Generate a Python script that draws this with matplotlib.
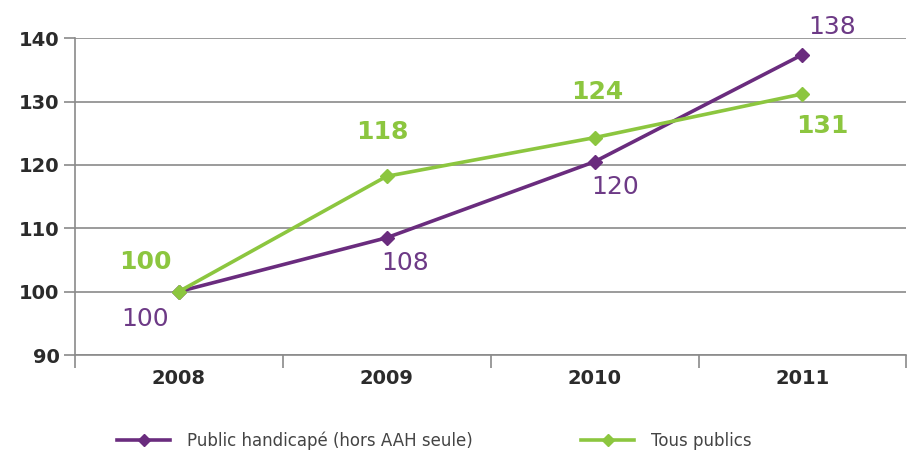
import matplotlib
matplotlib.use("Agg")
import matplotlib.pyplot as plt
from matplotlib.lines import Line2D

plt.rcParams.update({"font.family": "DejaVu Sans"})

years = ["2008", "2009", "2010", "2011"]
handi = [100, 108.5, 120.5, 137.4]
handi_lbl = ["100", "108", "120", "138"]
tous = [100, 118.2, 124.3, 131.2]
tous_lbl = ["100", "118", "124", "131"]

PURPLE = "#6a2c7e"
PURPLE_T = "#6d3a86"
GREEN = "#8cc63f"
GRID = "#8a8a8a"
INK = "#2b2b2b"

fig = plt.figure(figsize=(9.11, 4.54), dpi=100)
ax = fig.add_axes([0.082, 0.218, 0.913, 0.698])
x = list(range(len(years)))

ax.plot(x, handi, color=PURPLE, lw=2.6, marker="D", ms=7, zorder=3)
ax.plot(x, tous, color=GREEN, lw=2.6, marker="D", ms=7, zorder=4)

ax.set_xlim(-0.5, 3.5)
ax.set_ylim(90, 140)
ax.set_yticks(range(90, 141, 10))
ax.set_xticks(x)
ax.set_xticklabels(years)
ax.set_xticks([-0.5, 0.5, 1.5, 2.5, 3.5], minor=True)
ax.tick_params(axis="x", which="major", length=0, pad=10)
ax.tick_params(axis="x", which="minor", length=9, color=GRID, width=1.2)
ax.tick_params(axis="y", length=8, color=GRID, width=1.2, pad=3)
for lab in ax.get_xticklabels() + ax.get_yticklabels():
    lab.set_fontsize(14)
    lab.set_color(INK)
    lab.set_fontweight("bold")

ax.grid(axis="y", color=GRID, lw=1.2)
ax.set_axisbelow(True)
for s in ["top", "right"]:
    ax.spines[s].set_visible(False)
for s in ["left", "bottom"]:
    ax.spines[s].set_color(GRID)
    ax.spines[s].set_linewidth(1.2)

# data labels (offsets in points)
h_off = [(-24, -20), (13, -18), (15, -18), (21, 20)]
t_off = [(-24, 21), (-3, 32), (2, 33), (14, -23)]
for i in x:
    ax.annotate(handi_lbl[i], (i, handi[i]), xytext=h_off[i],
                textcoords="offset points", ha="center", va="center",
                fontsize=18, color=PURPLE_T)
    ax.annotate(tous_lbl[i], (i, tous[i]), xytext=t_off[i],
                textcoords="offset points", ha="center", va="center",
                fontsize=18, color=GREEN, fontweight="bold")

handles = [
    Line2D([], [], color=PURPLE, lw=2.6, marker="D", ms=6),
    Line2D([], [], color=GREEN, lw=2.6, marker="D", ms=6),
]
fig.legend(handles, ["Public handicapé (hors AAH seule)", "Tous publics"],
           loc="center left", bbox_to_anchor=(0.112, 0.03), ncol=2,
           frameon=False, fontsize=12, handlelength=3.2, columnspacing=6.5,
           handletextpad=1.0, labelcolor="#444444")

fig.savefig("out.png", dpi=100, facecolor="white")
